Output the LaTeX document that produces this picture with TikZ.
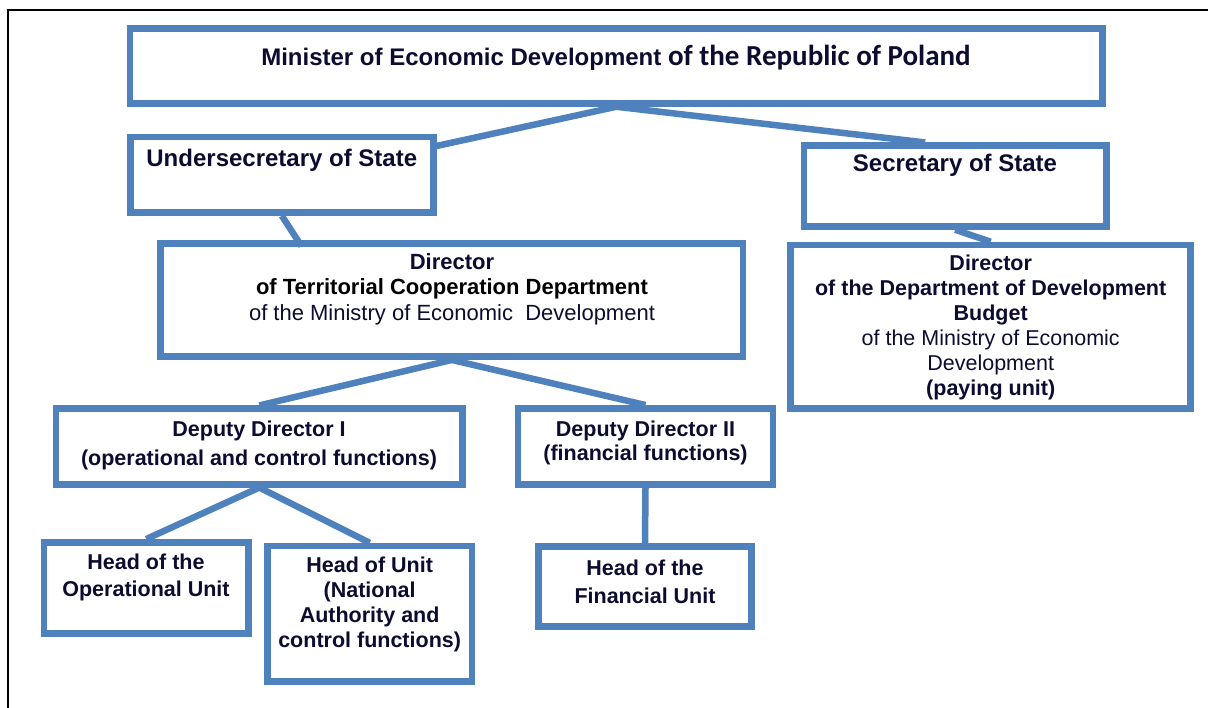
\documentclass[tikz,border=0pt]{standalone}
\usepackage{fontspec}
\setmainfont{Liberation Sans}
\newfontfamily\calfont{Carlito}
\usetikzlibrary{calc}
\definecolor{boxblue}{RGB}{79,129,189}
\definecolor{navy}{RGB}{12,12,48}
\begin{document}
\begin{tikzpicture}[x=1pt,y=-1pt,
  orgbox/.style={draw=boxblue,line width=6.5pt,inner sep=0pt,rectangle},
  link/.style={draw=boxblue,line width=6.5pt},
  lbl/.style={align=center,text=navy,inner sep=0pt},
  big/.style={font=\fontsize{24}{27}\selectfont\bfseries},
  small/.style={font=\fontsize{21.5}{#1}\selectfont\bfseries}]
\useasboundingbox (0,0) rectangle (1208,708);
\draw[line width=2pt] (7.5,708) -- (7.5,10.5) -- (1208,10.5);

% boxes
\node[orgbox,minimum width=972.5pt,minimum height=75pt] (min) at (616.25,66) {};
\node[orgbox,minimum width=303pt,minimum height=75.5pt] (us) at (281.8,174.75) {};
\node[orgbox,minimum width=302.3pt,minimum height=80.8pt] (ss) at (955.15,186.1) {};
\node[orgbox,minimum width=582.3pt,minimum height=113.4pt] (tcd) at (451.85,300) {};
\node[orgbox,minimum width=400pt,minimum height=163.3pt] (ddb) at (990.7,326.65) {};
\node[orgbox,minimum width=406.5pt,minimum height=75.6pt] (dd1) at (259.25,446.5) {};
\node[orgbox,minimum width=255pt,minimum height=76.4pt] (dd2) at (645.5,446.5) {};
\node[orgbox,minimum width=204.1pt,minimum height=91pt] (hop) at (146.25,587.8) {};
\node[orgbox,minimum width=204.3pt,minimum height=135.7pt] (hu) at (369.65,613.85) {};
\node[orgbox,minimum width=212.6pt,minimum height=80.4pt] (hf) at (645,586.5) {};

% connectors
\coordinate (usend) at ($(tcd.north west)+(144,6)$);
\draw[link] (min.south) -- ([yshift=28.75pt]us.east);
\draw[link] (min.south) -- ([xshift=-30pt]ss.north);
\draw[link] (ss.south) -- (ddb.north);
\draw[link] (us.south) -- (usend);
\draw[link] (tcd.south) -- (dd1.north);
\draw[link] (tcd.south) -- (dd2.north);
\draw[link] (dd1.south) -- (hop.north);
\draw[link] (dd1.south) -- (hu.north);
\draw[link] (dd2.south) -- (hf.north);

% texts
\node[lbl,big] (minT) at (616,57.5) {Minister of Economic Development {\calfont\fontsize{29}{30}\selectfont of the Republic of Poland}};
\node[lbl,big] (usT) at (281.8,160) {Undersecretary of State};
\node[lbl,big] (ssT) at (955,165) {Secretary of State};
\node[lbl,font=\fontsize{22}{25.5}\selectfont\bfseries] (tcdT) at (452,289)
  {Director\\ \color{black}of Territorial Cooperation Department\\ \mdseries of the Ministry of Economic\ \ Development};
\node[lbl,small=24.9] (ddbT) at (990.7,327.5)
  {Director\\of the Department of Development\\Budget\\ \mdseries of the Ministry of Economic\\ \mdseries Development\\ \bfseries(paying unit)};
\node[lbl,small=29] (dd1T) at (259,445.5) {Deputy Director I\\(operational and control functions)};
\node[lbl,small=24.5] (dd2T) at (645.5,443) {Deputy Director II\\(financial functions)};
\node[lbl,small=27] (hopT) at (146,577.5) {Head of the\\Operational Unit};
\node[lbl,small=25] (huT) at (369.65,604) {Head of Unit\\(National\\Authority and\\control functions)};
\node[lbl,small=28] (hfT) at (645,582) {Head of the\\Financial Unit};
\end{tikzpicture}
\end{document}
